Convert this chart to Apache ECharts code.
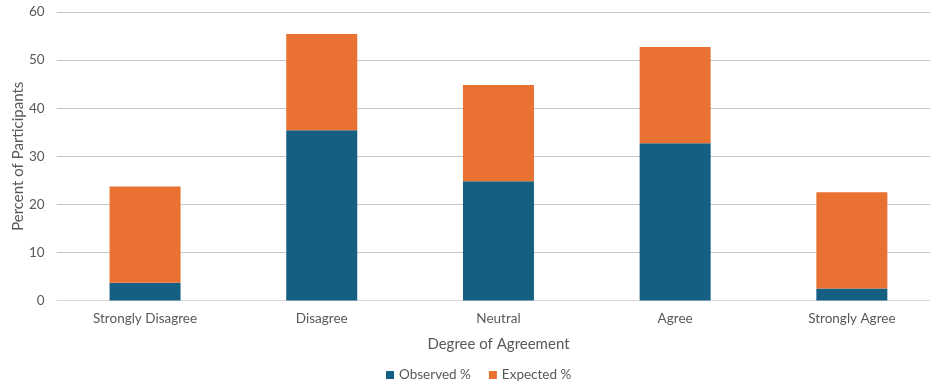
<!DOCTYPE html>
<html><head><meta charset="utf-8">
<script src="https://cdn.jsdelivr.net/npm/echarts@6/dist/echarts.min.js"></script>
<style>html,body{margin:0;padding:0;background:#fff}#c{width:930px;height:383px}</style>
</head><body><div id="c"></div>
<script>
const categories = ["Strongly Disagree","Disagree","Neutral","Agree","Strongly Agree"];
const observed = [3.7, 35.4, 24.8, 32.7, 2.5];
const expected = [20, 20, 20, 20, 20];
const seriesNames = ["Observed %","Expected %"];
const font = "Lato, 'Noto Sans', sans-serif";
const chart = echarts.init(document.getElementById('c'));
chart.setOption({
  animation:false,
  textStyle:{fontFamily:font},
  grid:{left:56.7,width:883.5,top:12,height:288.5,containLabel:false,outerBoundsMode:'none'},
  legend:{top:363,left:381,itemWidth:8,itemHeight:8,itemGap:18,icon:'rect',
    textStyle:{color:'#595959',fontSize:13.5,fontFamily:font},data:seriesNames},
  xAxis:{type:'category',data:categories,name:'Degree of Agreement',nameLocation:'middle',nameGap:36,
    nameMoveOverlap:false,
    nameTextStyle:{color:'#595959',fontSize:15,fontFamily:font},
    axisLine:{lineStyle:{color:'#d9d9d9'}},axisTick:{show:false},
    axisLabel:{color:'#595959',fontSize:13.5,margin:11,fontFamily:font}},
  yAxis:{type:'value',min:0,max:60,interval:10,name:'Percent of Participants',nameLocation:'middle',nameGap:31,
    nameMoveOverlap:false,
    nameTextStyle:{color:'#595959',fontSize:15,fontFamily:font},
    axisLabel:{color:'#595959',fontSize:13.5,margin:12,fontFamily:font},
    splitLine:{lineStyle:{color:'#c6c6c6',width:1}},axisLine:{show:false},axisTick:{show:false}},
  series:[
    {name:seriesNames[0],type:'bar',stack:'a',data:observed,barWidth:71,itemStyle:{color:'#156082'}},
    {name:seriesNames[1],type:'bar',stack:'a',data:expected,barWidth:71,itemStyle:{color:'#E97132'}}
  ]
});
</script></body></html>
